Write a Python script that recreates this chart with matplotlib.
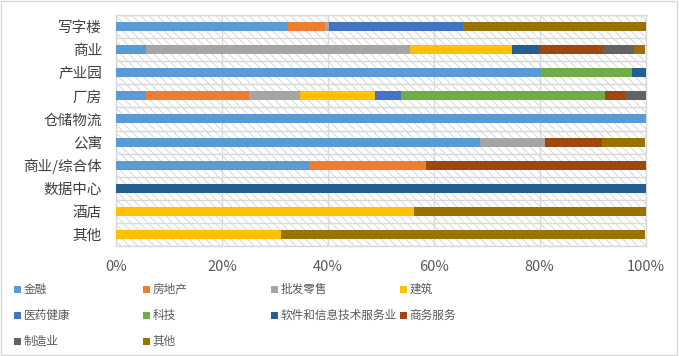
import matplotlib
matplotlib.use("Agg")
import matplotlib.pyplot as plt
from matplotlib.patches import Rectangle
import numpy as np

plt.rcParams['font.family'] = ['Noto Sans CJK SC', 'DejaVu Sans']
plt.rcParams['hatch.linewidth'] = 0.6

categories = ['写字楼', '商业', '产业园', '厂房', '仓储物流', '公寓', '商业/综合体', '数据中心', '酒店', '其他']
series_names = ['金融', '房地产', '批发零售', '建筑', '医药健康', '科技', '软件和信息技术服务业', '商务服务', '制造业', '其他']
colors = ['#5B9BD5', '#ED7D31', '#A5A5A5', '#FFC000', '#4472C4', '#70AD47', '#255E91', '#9E480E', '#636363', '#997300']

# values in % per series, ordered as categories
s_finance   = [32.4, 5.7, 80.4, 5.7, 100, 68.7, 36.5, 0, 0, 0]
s_realestate= [7.1, 0, 0, 19.4, 0, 0, 22.0, 0, 0, 0]
s_retail    = [0.7, 49.8, 0, 9.6, 0, 12.3, 0, 0, 0, 0]
s_construct = [0, 19.3, 0, 14.2, 0, 0, 0, 0, 56.3, 31.2]
s_medical   = [25.4, 0, 0, 4.9, 0, 0, 0, 0, 0, 0]
s_tech      = [0, 0, 17.1, 38.6, 0, 0, 0, 0, 0, 0]
s_software  = [0, 5.1, 2.5, 0, 0, 0, 0, 100, 0, 0]
s_business  = [0, 12.1, 0, 3.7, 0, 10.8, 41.5, 0, 0, 0]
s_manufact  = [0, 5.8, 0, 3.9, 0, 0, 0, 0, 0, 0]
s_other     = [34.4, 2.2, 0, 0, 0, 8.2, 0, 0, 43.7, 68.8]
series = [s_finance, s_realestate, s_retail, s_construct, s_medical, s_tech,
          s_software, s_business, s_manufact, s_other]

x_ticks = [0, 20, 40, 60, 80, 100]
x_ticklabels = ['0%', '20%', '40%', '60%', '80%', '100%']

W, H = 679, 356
fig = plt.figure(figsize=(W / 100, H / 100), dpi=100)
ax = fig.add_axes([116 / W, 1 - 246 / H, (645.5 - 116) / W, (246 - 15) / H])

# hatched background
bg = Rectangle((0, 0), 1, 1, transform=ax.transAxes, facecolor='white',
               edgecolor='#D0D0D0', hatch='\\\\\\\\', linewidth=0, zorder=0)
ax.add_patch(bg)

y = np.arange(len(categories))
left = np.zeros(len(categories))
for vals, c in zip(series, colors):
    v = np.array(vals, dtype=float)
    ax.barh(y, v, left=left, height=0.39, color=c, zorder=3, linewidth=0)
    left += v

ax.set_xlim(0, 100)
ax.set_ylim(len(categories) - 0.5, -0.5)
ax.set_xticks(x_ticks)
ax.set_xticklabels(x_ticklabels)
ax.set_yticks(y)
ax.set_yticklabels(categories)
ax.set_yticks(np.arange(-0.5, len(categories), 1), minor=True)
ax.tick_params(axis='both', which='both', length=0)
ax.tick_params(axis='x', pad=10, labelsize=10.5, labelcolor='#595959')
ax.tick_params(axis='y', pad=10, labelsize=10.5, labelcolor='#404040')
ax.grid(axis='x', which='major', color='#D9D9D9', linewidth=1.0, zorder=1)
ax.grid(axis='y', which='minor', color='#D9D9D9', linewidth=1.0, zorder=1)
ax.set_axisbelow(True)
for sp in ax.spines.values():
    sp.set_color('#D9D9D9')
    sp.set_linewidth(1.0)

# legend (4 equal columns)
col_x = [14, 143, 271, 400]
row_y = [289, 315, 341]
for i, (name, c) in enumerate(zip(series_names, colors)):
    r, cidx = divmod(i, 4)
    px, py = col_x[cidx], row_y[r]
    fig.patches.append(Rectangle((px / W, (H - py - 3.5) / H), 7 / W, 7 / H,
                                 transform=fig.transFigure, facecolor=c,
                                 edgecolor='none', figure=fig))
    fig.text((px + 9.5) / W, (H - py) / H, name, fontsize=8.4, color='#595959',
             ha='left', va='center')

# outer chart border
fig.patches.append(Rectangle((0.5 / W, 1.5 / H), 676 / W, 354 / H,
                             transform=fig.transFigure, facecolor='none',
                             edgecolor='#D9D9D9', linewidth=1.0, figure=fig))

fig.savefig('out.png', dpi=100)
